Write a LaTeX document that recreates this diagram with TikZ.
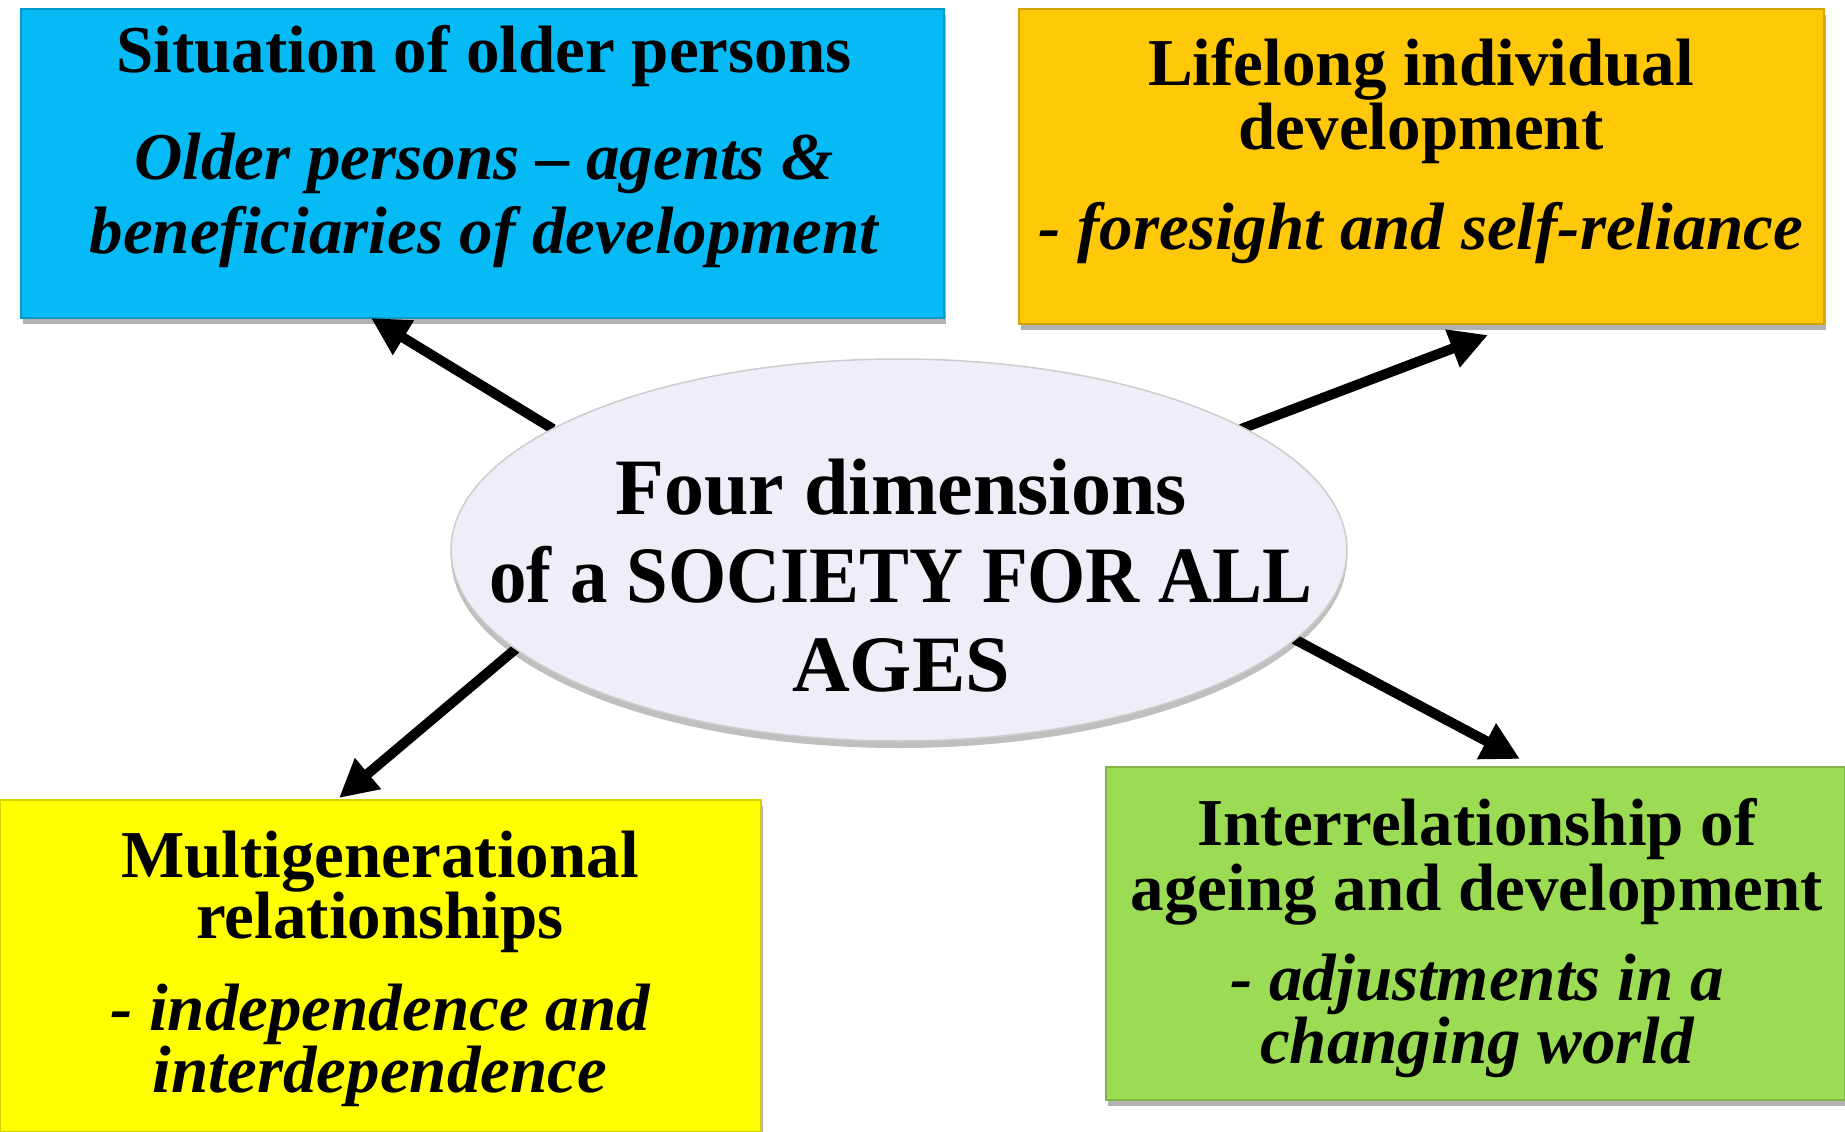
\documentclass[tikz,border=0pt]{standalone}
\usepackage{fontspec}
\setmainfont{Liberation Serif}
\usetikzlibrary{arrows.meta,shapes.geometric,shadows}
\definecolor{cblue}{RGB}{6,186,246}
\definecolor{corange}{RGB}{255,200,8}
\definecolor{cyellow}{RGB}{255,255,0}
\definecolor{cgreen}{RGB}{156,220,84}
\definecolor{clav}{RGB}{240,236,248}
\begin{document}
\begin{tikzpicture}[x=1pt,y=-1pt,
  box/.style={rectangle, draw=#1!82!black, line width=1.2pt, fill=#1, inner sep=0pt,
    drop shadow={shadow xshift=2pt, shadow yshift=-6pt, opacity=.3, fill=black}},
  hd/.style={anchor=base, inner sep=0pt, font=\fontsize{67}{72}\selectfont\bfseries},
  it/.style={anchor=base, inner sep=0pt, font=\fontsize{67}{72}\selectfont\bfseries\itshape},
  ctr/.style={anchor=base, inner sep=0pt, font=\fontsize{80}{84}\selectfont\bfseries},
  arr/.style={line width=10pt, -{Triangle[length=38pt,width=38pt]}}]
\useasboundingbox (0,0) rectangle (1845,1132);
% boxes
\node[box=cblue, minimum width=923pt, minimum height=309pt] (blue) at (482.5,163.5) {};
\node[box=corange, minimum width=805pt, minimum height=315pt] (orange) at (1421.5,166.5) {};
\node[box=cyellow, minimum width=761pt, minimum height=332pt] (yellow) at (380.5,966) {};
\node[box=cgreen, minimum width=739pt, minimum height=333pt] (green) at (1475.5,933.5) {};
% arrows
\coordinate (s1) at (553,429);  \coordinate (t1) at (371,318);
\coordinate (s2) at (1241,429); \coordinate (t2) at (1488,335);
\coordinate (s3) at (518,647);  \coordinate (t3) at (339,798);
\coordinate (s4) at (1294,639); \coordinate (t4) at (1520,759);
\draw[arr] (s1) -- (t1);
\draw[arr] (s2) -- (t2);
\draw[arr] (s3) -- (t3);
\draw[arr] (s4) -- (t4);
% centre ellipse
\node[ellipse, draw=gray!40, line width=1.5pt, fill=clav, minimum width=896pt, minimum height=382pt,
  drop shadow={shadow xshift=0pt, shadow yshift=-7pt, opacity=.25, fill=black}] (ell) at (899,550) {};
\node[ctr] (e1) at (901,514) {Four dimensions};
\node[ctr] (e2) at (901,602) {\scalebox{0.935}[1]{of a SOCIETY FOR ALL}};
\node[ctr] (e3) at (901,691) {AGES};
% blue text
\node[hd] (b1) at (484,73) {Situation of older persons};
\node[it] (b2) at (484,179) {Older persons -- agents \&};
\node[it] (b3) at (484,253) {beneficiaries of development};
% orange text
\node[hd] (o1) at (1421,85) {Lifelong individual};
\node[hd] (o2) at (1421,149) {development};
\node[it] (o3) at (1421,249) {- foresight and self-reliance};
% yellow text
\node[hd] (y1) at (380,877) {Multigenerational};
\node[hd] (y2) at (380,938) {relationships};
\node[it] (y3) at (380,1030) {- independence and};
\node[it] (y4) at (380,1092) {interdependence};
% green text
\node[hd] (g1) at (1477,845) {Interrelationship of};
\node[hd] (g2) at (1477,910) {ageing and development};
\node[it] (g3) at (1477,1000) {- adjustments in a};
\node[it] (g4) at (1477,1063) {changing world};
\end{tikzpicture}
\end{document}
